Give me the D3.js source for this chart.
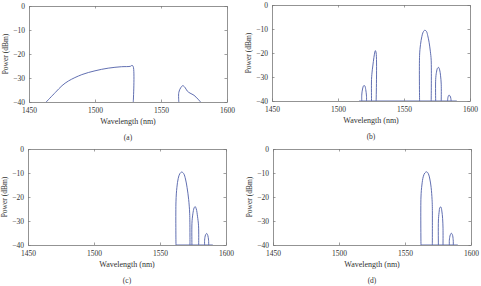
<!DOCTYPE html>
<html>
<head>
<meta charset="utf-8">
<script src="https://cdn.jsdelivr.net/npm/d3@7"></script>
<style>
  body { margin: 0; background: #fff; }
  svg, svg text { font-family: "Liberation Serif", "Times New Roman", serif; }
</style>
</head>
<body>
<main></main>
<script>
const width = 481;
const height = 286;

const xTicks = [1450, 1500, 1550, 1600];
const yTicks = [0, -10, -20, -30, -40];
const panelLabels = ["(a)", "(b)", "(c)", "(d)"];

// (a) broadband ASE-like curve + small bump
const seriesA = [
  [[1463, -40], [1470, -36.0], [1475, -33.2], [1480, -31.2], [1490, -28.6], [1500, -27.0],
   [1510, -25.9], [1520, -25.3], [1527, -25.1], [1528, -24.7], [1529, -25.3], [1529, -40]],
  [[1563.5, -40], [1563.5, -36], [1565, -34], [1566.5, -33.2], [1568, -33.8], [1570, -35.5],
   [1572, -36.3], [1575, -37.2], [1578, -38.8], [1580, -40]]
];

const seriesB = [
  [[1518, -40], [1518, -37.5], [1518.6, -35], [1519.5, -33.6], [1520.3, -33.7], [1521, -35.2], [1521.6, -38], [1521.6, -40]],
  [[1525.4, -40], [1525.4, -31], [1526, -27], [1526.8, -23.5], [1527.6, -20.5], [1528.3, -19], [1528.9, -20], [1528.9, -40]],
  [[1561.8, -40], [1561.8, -21], [1562.5, -16.5], [1563.5, -13.2], [1564.5, -11.3], [1565.8, -10.5], [1567, -11],
   [1568, -12.8], [1569, -15.5], [1570, -19.5], [1570.6, -23], [1570.6, -40]],
  [[1574, -40], [1574, -31], [1574.6, -28], [1575.4, -26.3], [1576.2, -26], [1577, -27], [1577.7, -29.5], [1578.2, -33], [1578.2, -40]],
  [[1583, -40], [1583.3, -38.5], [1584, -37.6], [1584.8, -37.8], [1585.5, -39], [1585.7, -40]],
  [[1516, -40], [1590, -40]]
];

const seriesC = [
  [[1562.1, -40], [1562.1, -22], [1562.8, -16], [1563.8, -12.3], [1565, -10.3], [1566.5, -9.6], [1568, -10.3],
   [1569.3, -12.5], [1570.5, -16], [1571.7, -21], [1572.5, -27], [1572.7, -40]],
  [[1574.2, -40], [1574.2, -31], [1574.9, -27], [1575.8, -24.6], [1576.6, -24], [1577.5, -25], [1578.4, -28], [1579.2, -32], [1579.3, -40]],
  [[1583.8, -40], [1583.8, -38], [1584.5, -35.8], [1585.4, -35.2], [1586.2, -36], [1586.8, -38], [1586.9, -40]],
  [[1562.1, -40], [1590, -40]]
];

const seriesD = [
  [[1562.1, -40], [1562.1, -20], [1562.8, -15], [1563.8, -11.6], [1565, -10], [1566.4, -9.5], [1567.7, -10.3],
   [1568.8, -12.5], [1569.8, -16], [1570.5, -21], [1570.7, -24], [1570.7, -40]],
  [[1575.3, -40], [1575.3, -30], [1575.8, -26.5], [1576.5, -24.3], [1577.2, -24.2], [1577.9, -25.8], [1578.5, -29], [1578.8, -33], [1578.8, -40]],
  [[1583.6, -40], [1583.6, -38], [1584.3, -35.8], [1585.1, -35.1], [1585.9, -35.7], [1586.5, -37.8], [1586.6, -40]],
  [[1562.1, -40], [1590, -40]]
];

const allSeries = [seriesA, seriesB, seriesC, seriesD];

// plot boxes (left, top) for each panel
const boxes = [
  { x: 29, y: 6 },
  { x: 272, y: 5 },
  { x: 28, y: 149 },
  { x: 273, y: 149 }
];
const plotW = 198;
const plotH = 96;

const lineColor = "#4f5fa8";
const axisColor = "#777";
const textColor = "#333";
const serif = "'Liberation Serif', 'Times New Roman', serif";

const svg = d3
  .select("main")
  .append("svg")
  .attr("width", width)
  .attr("height", height)
  .attr("viewBox", `0 0 ${width} ${height}`);

allSeries.forEach((series, i) => {
  const box = boxes[i];
  const g = svg.append("g").attr("transform", `translate(${box.x}, ${box.y})`);

  const x = d3.scaleLinear().domain([1450, 1600]).range([0, plotW]);
  const y = d3.scaleLinear().domain([-40, 0]).range([plotH, 0]);

  g.append("clipPath")
    .attr("id", `clip${i}`)
    .append("rect")
    .attr("x", 0)
    .attr("y", -1)
    .attr("width", plotW)
    .attr("height", plotH + 1);

  const line = d3
    .line()
    .x((d) => x(d[0]))
    .y((d) => y(d[1]))
    .curve(d3.curveCatmullRom.alpha(0.5));

  g.append("g")
    .attr("clip-path", `url(#clip${i})`)
    .selectAll("path")
    .data(series)
    .enter()
    .append("path")
    .attr("d", line)
    .attr("fill", "none")
    .attr("stroke", lineColor)
    .attr("stroke-width", 0.9);

  // axes, ticks inward like matlab
  const bottom = g.append("g").attr("transform", `translate(0, ${plotH})`)
    .call(d3.axisBottom(x).tickValues(xTicks).tickSizeInner(-2.5).tickSizeOuter(0).tickPadding(6)
      .tickFormat(d3.format("d")));
  const top = g.append("g")
    .call(d3.axisTop(x).tickValues(xTicks).tickSizeInner(-2.5).tickSizeOuter(0).tickFormat(""));
  const left = g.append("g")
    .call(d3.axisLeft(y).tickValues(yTicks).tickSizeInner(-2.5).tickSizeOuter(0).tickPadding(4)
      .tickFormat((d) => (d === 0 ? "0" : "\u2212" + Math.abs(d))));
  const right = g.append("g").attr("transform", `translate(${plotW}, 0)`)
    .call(d3.axisRight(y).tickValues(yTicks).tickSizeInner(-2.5).tickSizeOuter(0).tickFormat(""));

  [bottom, top, left, right].forEach((a) => {
    a.attr("font-family", serif);
    a.select(".domain").attr("stroke", axisColor).attr("stroke-width", 0.8);
    a.selectAll(".tick line").attr("stroke", axisColor).attr("stroke-width", 0.7);
    a.selectAll("text")
      .attr("fill", textColor)
      .attr("font-size", 7.5);
  });

  g.append("text")
    .attr("x", plotW / 2)
    .attr("y", plotH + 22)
    .attr("text-anchor", "middle")
    .attr("font-family", serif)
    .attr("font-size", 8)
    .attr("fill", textColor)
    .text("Wavelength (nm)");

  g.append("text")
    .attr("transform", `translate(${-21}, ${plotH / 2}) rotate(-90)`)
    .attr("text-anchor", "middle")
    .attr("font-family", serif)
    .attr("font-size", 7.5)
    .attr("fill", textColor)
    .text("Power (dBm)");

  g.append("text")
    .attr("x", plotW / 2)
    .attr("y", plotH + 38)
    .attr("text-anchor", "middle")
    .attr("font-family", serif)
    .attr("font-size", 7.5)
    .attr("fill", textColor)
    .text(panelLabels[i]);
});
</script>
</body>
</html>
